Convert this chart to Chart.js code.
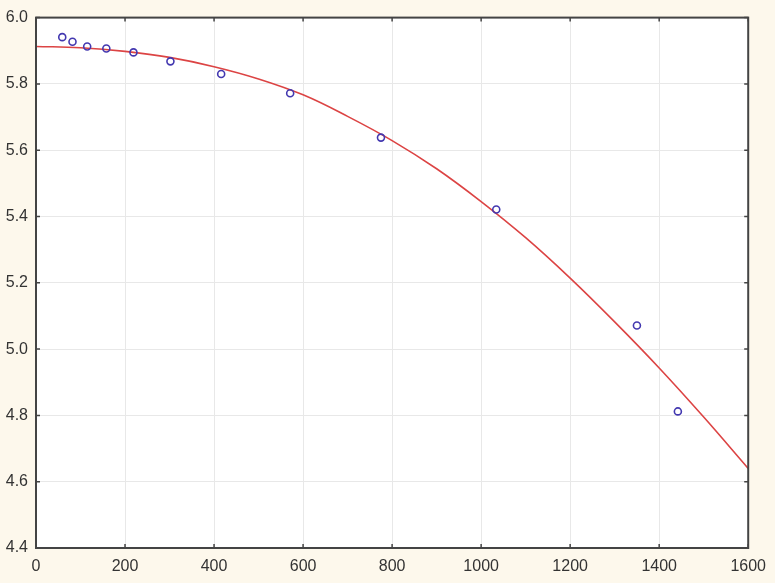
<!DOCTYPE html>
<html>
<head>
<meta charset="utf-8">
<script src="https://cdn.jsdelivr.net/npm/chart.js@4.4.6/dist/chart.umd.min.js"></script>
<style>
  html, body { margin: 0; padding: 0; background: #fdf8ec; }
  #wrap { width: 775px; height: 583px; position: relative; }
</style>
</head>
<body>
<div id="wrap"><canvas id="chart-fit"></canvas></div>
<script>
// measured points (x, y)
const pointX = [59, 82, 115, 158, 219, 302, 416, 571, 775, 1034, 1350, 1442];
const pointY = [5.941, 5.927, 5.913, 5.907, 5.895, 5.868, 5.830, 5.772, 5.638, 5.421, 5.071, 4.812];

// fitted curve, every 100 units
const curveX = [0, 100, 200, 300, 400, 500, 600, 700, 800, 900, 1000, 1100, 1200, 1300, 1400, 1500, 1600];
const curveY = [5.913, 5.909, 5.898, 5.880, 5.852, 5.815, 5.767, 5.702, 5.629, 5.544, 5.445, 5.336, 5.214, 5.082, 4.943, 4.795, 4.640];

const xTicks = [0, 200, 400, 600, 800, 1000, 1200, 1400, 1600];
const yTicks = [4.4, 4.6, 4.8, 5.0, 5.2, 5.4, 5.6, 5.8, 6.0];

const FONT = { family: "'Liberation Sans', Arial, sans-serif", size: 16 };

// white plot area, frame and small tick marks pointing inward on all four sides
const frame = {
  id: "frame",
  beforeDraw(chart) {
    const { ctx, chartArea: a } = chart;
    ctx.save();
    ctx.fillStyle = "#ffffff";
    ctx.fillRect(a.left, a.top, a.right - a.left, a.bottom - a.top);
    ctx.restore();
  },
  afterDraw(chart) {
    const { ctx, chartArea: a, scales: { x, y } } = chart;
    ctx.save();
    ctx.strokeStyle = "#444";
    ctx.lineWidth = 1.5;
    ctx.beginPath();
    for (const v of xTicks) {
      const px = x.getPixelForValue(v);
      ctx.moveTo(px, a.bottom); ctx.lineTo(px, a.bottom - 4);
      ctx.moveTo(px, a.top); ctx.lineTo(px, a.top + 4);
    }
    for (const v of yTicks) {
      const py = y.getPixelForValue(v);
      ctx.moveTo(a.left, py); ctx.lineTo(a.left + 4, py);
      ctx.moveTo(a.right, py); ctx.lineTo(a.right - 4, py);
    }
    ctx.stroke();
    ctx.lineWidth = 2;
    ctx.strokeRect(a.left, a.top, a.right - a.left, a.bottom - a.top);
    ctx.restore();
  },
};

new Chart(document.getElementById("chart-fit"), {
  type: "scatter",
  data: {
    datasets: [
      {
        type: "line",
        data: curveX.map((x, i) => ({ x, y: curveY[i] })),
        borderColor: "#dc4444",
        borderWidth: 1.6,
        pointRadius: 0,
        tension: 0.4,
        fill: false,
        order: 2,
      },
      {
        data: pointX.map((x, i) => ({ x, y: pointY[i] })),
        pointStyle: "circle",
        pointRadius: 3.5,
        borderWidth: 1.6,
        borderColor: "#4338b0",
        backgroundColor: "rgba(0,0,0,0)",
        order: 1,
      },
    ],
  },
  options: {
    responsive: true,
    maintainAspectRatio: false,
    animation: false,
    layout: { padding: { top: 14, right: 23, left: 0, bottom: 0 } },
    plugins: { legend: { display: false }, tooltip: { enabled: false } },
    scales: {
      x: {
        type: "linear",
        min: 0, max: 1600,
        afterBuildTicks: s => { s.ticks = xTicks.map(v => ({ value: v })); },
        afterFit: s => { s.height = 35; },
        grid: { color: "#e8e8e8", lineWidth: 1, drawTicks: false },
        border: { display: false },
        ticks: { color: "#333", font: FONT, padding: 9, maxRotation: 0, callback: v => String(v) },
      },
      y: {
        type: "linear",
        min: 4.4, max: 6.0,
        afterBuildTicks: s => { s.ticks = yTicks.map(v => ({ value: v })); },
        afterFit: s => { s.width = 36; },
        grid: { color: "#e8e8e8", lineWidth: 1, drawTicks: false },
        border: { display: false },
        ticks: { color: "#333", font: FONT, padding: 8, callback: v => v.toFixed(1) },
      },
    },
  },
  plugins: [frame],
});
</script>
</body>
</html>
